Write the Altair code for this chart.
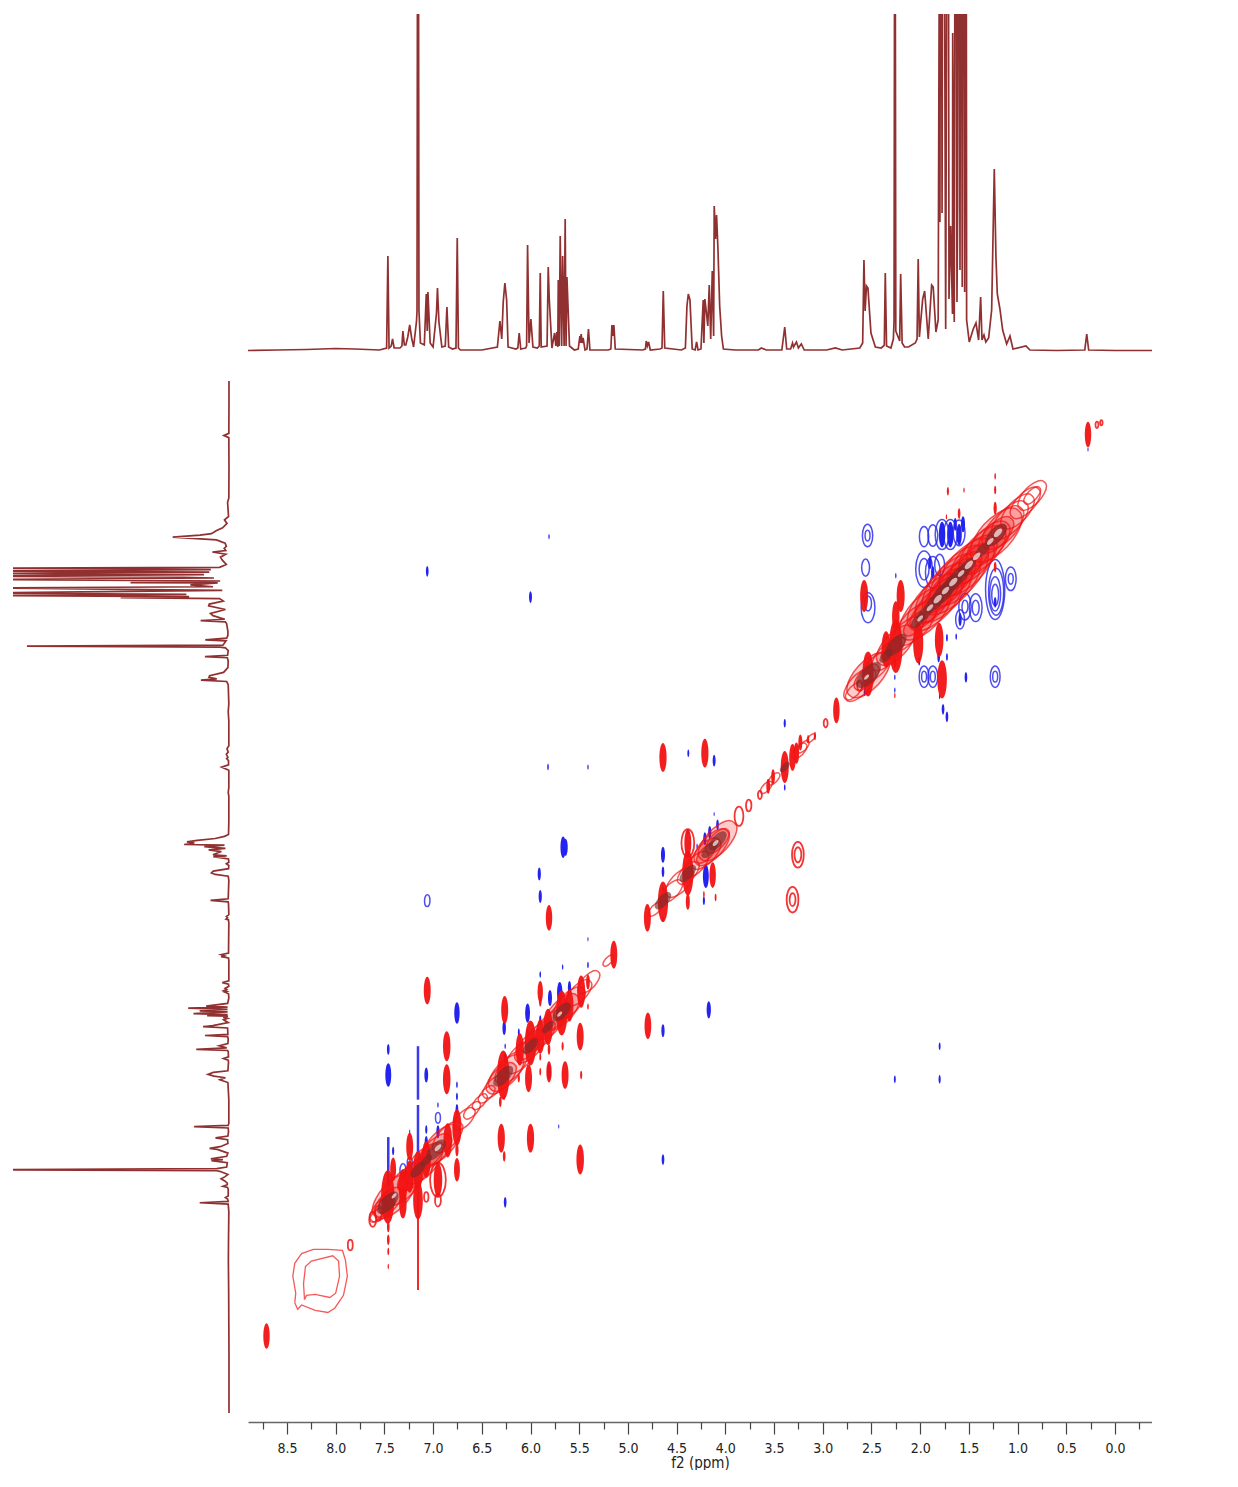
import altair as alt
import pandas as pd

# ---- 1D projection: (ppm, intensity) vertices
spec_ppm = [9.45,8.90,8.6,8.3,8.0,7.8,7.55,7.477,7.464,7.452,7.43,7.416,7.40,7.34,7.32,7.31,7.295,7.28,7.26,7.24,7.22,7.2,7.17,7.165,7.155,7.145,7.13,7.09,7.07,7.06,7.053,7.03,7.0,
 6.965,6.955,6.94,6.91,6.875,6.858,6.84,6.80,6.765,6.752,6.74,6.72,6.5,6.34,6.314,6.295,6.28,6.263,6.245,6.23,6.15,6.13,6.116,6.10,6.05,6.04,6.03,6.015,5.996,5.975,5.93,5.91,5.90,5.89,5.83,5.818,5.808,5.78,
 5.753,5.74,5.73,5.72,5.715,5.705,5.695,5.68,5.67,5.655,5.644,5.635,5.626,5.6,5.55,5.51,5.493,5.488,5.48,5.47,5.46,5.44,5.42,5.405,5.39,5.2,5.175,5.164,5.155,5.144,5.13,
 4.85,4.82,4.812,4.80,4.788,4.77,4.67,4.65,4.637,4.622,4.45,4.41,4.394,4.38,4.363,4.34,4.31,4.295,4.28,4.25,4.227,4.22,4.21,4.196,4.18,4.165,4.15,4.134,4.12,4.114,4.10,4.09,4.076,4.058,4.038,4.02,
 3.9,3.66,3.63,3.58,3.42,3.39,3.37,3.33,3.31,3.30,3.27,3.25,3.22,3.19,2.96,2.87,2.8,2.62,2.59,2.577,2.565,2.551,2.536,2.505,2.46,2.40,2.375,2.368,2.358,2.345,2.30,2.275,2.268,2.259,2.25,2.21,2.20,2.185,2.16,2.12,2.05,2.032,2.02,2.008,
 1.974,1.954,1.917,1.882,1.866,1.838,1.815,1.805,1.797,1.786,1.775,1.763,1.738,1.715,1.704,1.687,1.668,1.666,1.65,1.636,1.622,1.615,1.605,1.591,1.581,1.568,1.557,1.543,1.53,1.523,
 1.496,1.455,1.427,1.40,1.379,1.365,1.345,1.326,1.297,1.266,1.239,1.222,1.208,1.181,1.153,1.112,1.078,1.047,0.914,0.873,0.6,0.31,0.29,0.27,0.0,-0.38]
spec_int = [0.5,0.5,1,1.5,2.5,2,1,3,95,3,5,12,3,3,5,20,6,6,14,26,13,4,30,40,800,40,8,6,57,20,59,8,4,
 38,63,29,4,5,44,4,2,3,113,3,1,1,4,30,12,49,68,51,4,2,3,18,2,3,5,106,8,32,4,3,5,78,4,5,84,53,3,
 18,5,19,4,71,5,115,5,95,5,132,5,74,5,1,2,15,8,17,8,13,1,2,22,1,1,2,26,15,26,2,
 1,2,10,5,9,1,2,3,60,3,1,3,45,57,51,2,1,9,1,2,51,8,52,40,25,66,12,80,15,145,112,136,103,45,15,2,
 1,1,3,1,1,24,2,2,8,4,9,3,7,1,1,3,1,3,8,91,40,65,63,18,4,3,5,6,78,5,3,12,30,652,20,10,77,8,4,4,8,12,92,14,
 52,60,12,66,64,19,31,350,129,800,138,800,22,800,52,125,37,318,29,800,49,147,800,81,800,64,800,59,800,31,
 9,22,28,11,54,11,16,9,13,41,182,94,57,42,21,7,15,2,5,1,0.5,1,17,1,0.5,0.5]

# ---- 2D cross peaks: (f2 ppm, f1 ppm, f1 extent in ppm)
blue_spots = [(5.81,1.235,.05),(7.06,1.56,.1),(6.0,1.80,.11),(5.82,3.39,.06),(5.41,3.39,.05),(5.91,4.39,.12),(5.90,4.60,.12),
 (5.665,4.14,.2),(5.64,4.14,.16),(6.755,5.69,.2),(4.64,5.855,.12),(4.17,5.66,.16),(4.64,7.06,.1),(5.71,6.75,.04),(6.26,7.46,.1),
 (2.26,6.31,.07),(1.80,6.0,.07),(1.80,6.31,.08),(7.46,6.03,.1),(7.46,6.27,.22),(7.07,6.27,.14),(6.755,6.36,.06),(6.755,6.47,.07),(6.755,6.59,.1),
 (6.95,6.55,.05),(6.95,6.8,.12),(7.07,6.78,.08),(7.07,6.9,.12),(7.24,6.8,.04),(7.41,6.98,.08),(7.54,7.44,.04),
 (6.27,5.83,.13),(6.26,6.0,.05),(6.26,6.11,.1),(6.03,5.69,.18),(6.03,5.87,.08),(6.12,5.87,.07),(5.9,5.75,.08),(5.9,5.33,.06),(5.67,5.26,.05),(5.41,5.0,.04),(5.41,5.24,.06),
 (5.8,5.55,.15),(5.7,5.5,.2),(5.6,5.45,.12),(5.81,6.24,.15),
 (0.277,.42,.04),(4.38,3.26,.07),(4.115,3.33,.11),(3.39,2.98,.08),(3.39,3.58,.06),(4.64,4.21,.15),(4.64,4.37,.1),(4.64,4.53,.06),(4.64,4.81,.06),
 (4.115,3.83,.04),(4.29,4.13,.05),(4.08,3.93,.1),(4.16,4.0,.12),(4.21,4.06,.12),(4.2,4.41,.22),(4.22,4.64,.08),(4.385,4.0,.06),
 (1.53,2.55,.1),(1.725,2.36,.07),(1.725,2.18,.07),(1.80,2.73,.05),(1.765,2.85,.1),(1.725,2.92,.1),(2.57,2.69,.07),(2.26,2.55,.05),(2.26,2.67,.05),(2.25,1.6,.05),(2.01,2.40,.08),(1.81,2.36,.1),
 (1.64,1.12,.12),(1.56,1.12,.15),(1.775,1.216,.24),(1.69,1.216,.24),(1.60,1.216,.2),(1.90,1.48,.12),(1.87,1.57,.12),(1.63,2.17,.06),(1.59,2.01,.12),(1.23,1.85,.1)]
blue_rings = [(2.54,1.225,.21),(2.54,1.225,.1),(2.56,1.525,.16),(2.535,1.90,.28),(2.535,1.86,.14),(1.96,1.235,.19),(1.87,1.225,.2),(1.775,1.216,.28),(1.69,1.216,.28),
 (1.60,1.2,.24),(1.96,1.54,.34),(1.96,1.54,.2),(1.87,1.57,.3),(1.80,1.5,.2),(1.07,1.63,.22),(1.07,1.63,.1),
 (1.43,1.90,.26),(1.43,1.90,.14),(1.54,1.89,.25),(1.54,1.89,.12),(1.59,2.01,.18),(1.23,2.545,.2),(1.23,2.545,.1),(1.96,2.545,.2),(1.96,2.545,.1),(1.87,2.545,.2),(1.87,2.545,.1),
 (7.06,4.64,.11),(7.31,7.16,.12),(7.24,7.09,.1),(7.2,7.14,.1),(6.95,6.67,.1)]
blue_tall_rings = [(1.23,1.73,.56),(1.22,1.75,.44),(1.23,1.77,.32),(1.23,1.78,.2)]
red_spots = [(2.575,1.79,.3),(2.20,1.79,.3),(2.25,1.98,.28),(2.35,2.29,.34),(2.25,2.26,.5),(2.02,2.23,.38),(1.805,2.20,.32),(1.775,2.57,.36),(2.535,2.52,.42),
 (1.23,.67,.06),(1.23,.8,.08),(1.23,.97,.12),(1.715,.81,.08),(1.73,1.05,.05),(1.55,.8,.05),(1.6,1.02,.1),(1.23,1.52,.1),(2.26,2.42,.1),(2.26,2.72,.05),
 (4.64,3.30,.27),(4.21,3.26,.27),(3.39,3.39,.3),(3.31,3.30,.25),(3.27,3.26,.2),(3.23,3.16,.15),(3.15,3.13,.08),(3.08,3.10,.08),(2.86,2.86,.24),(3.56,3.57,.14),(3.51,3.48,.14),
 (4.385,4.65,.15),(4.385,4.1,.26),(4.385,4.38,.42),(4.13,4.40,.24),(4.10,4.61,.07),(4.64,4.65,.38),(4.8,4.80,.26),(4.22,4.58,.06),
 (0.277,.28,.24),(5.81,4.80,.24),(7.06,5.48,.26),(5.145,5.145,.26),(5.48,5.49,.3),(4.795,5.81,.25),(5.49,5.91,.26),(5.645,6.27,.26),(5.49,7.06,.28),
 (6.30,6.86,.27),(6.0,6.86,.27),(6.27,7.03,.1),(8.71,8.71,.24),(6.86,6.0,.28),(6.86,6.31,.28),(6.755,6.76,.34),(7.24,6.94,.26),(6.85,6.88,.32),
 (7.07,7.06,.34),(7.155,7.16,.36),(7.24,7.22,.3),(7.31,7.31,.32),(7.41,7.15,.22),(7.465,7.41,.5),(7.31,7.47,.28),(7.155,7.44,.36),(6.95,7.25,.32),(6.755,7.155,.22),(6.755,6.97,.12),
 (7.46,7.69,.1),(7.46,7.81,.1),(7.46,7.92,.07),(7.46,8.06,.05),
 (6.265,5.66,.26),(6.28,6.27,.46),(6.11,6.03,.3),(6.0,5.97,.42),(5.90,5.91,.32),(5.82,5.82,.34),(5.68,5.69,.42),(5.6,5.62,.3),(5.9,5.58,.1),(5.9,5.49,.2),
 (5.48,6.27,.08),(5.81,6.24,.2),(5.9,6.24,.07),(6.02,6.3,.26),(6.12,6.3,.08),(5.67,6.0,.08),(5.81,6.03,.1),(5.9,6.1,.07),(6.27,6.48,.05),(6.31,6.52,.1),(5.41,5.63,.06),(5.41,5.4,.14)]
red_rings = [(7.07,7.41,.09),(6.95,7.44,.12),(6.95,7.25,.32),(7.62,7.62,.14),(7.56,7.56,.14),(7.52,7.5,.14),(3.86,3.85,.18),(3.76,3.75,.11),(3.645,3.65,.08),
 (3.255,4.21,.24),(3.255,4.21,.14),(3.31,4.63,.24),(3.31,4.63,.12),(4.385,4.1,.26),(2.97,2.98,.08),(2.62,2.63,.1),(0.185,.19,.06),(0.14,.17,.05),(7.85,7.86,.1)]
diag_solid = [(1.15,.5),(1.22,.62),(1.22,.42),(1.22,.24),(1.3,.52),(1.36,.56),(1.45,.56),(1.45,.36),(1.52,.66),(1.55,.42),(1.6,.7),(1.62,.44),(1.62,.26),
 (1.68,.7),(1.72,.46),(1.76,.68),(1.78,.4),(1.78,.24),(1.85,.66),(1.88,.42),(1.95,.62),(1.95,.36),(2.05,.5),(2.05,.28),(2.25,.46),(2.28,.28),(2.53,.52),(2.55,.3),
 (4.08,.46),(4.08,.28),(4.14,.42),(4.2,.36),(4.2,.22),
 (5.6,.38),(5.68,.42),(5.72,.3),(5.8,.34),(5.9,.36),(6.0,.38),(6.02,.26),(6.25,.42),(6.3,.36),
 (6.92,.46),(6.98,.4),(7.02,.3),(7.1,.46),(7.2,.38),(7.25,.26),(7.3,.46),(7.4,.52),(7.46,.34)]
diag_open = [(.85,.34),(.92,.36),(.85,.2),(1.0,.4),(1.08,.44),(2.15,.4),(2.35,.34),(2.45,.34),(2.62,.38),(2.68,.2),
 (3.12,.1),(3.2,.14),(3.24,.18),(3.58,.14),(3.5,.14),(4.3,.3),(4.38,.26),(4.47,.34),(4.55,.26),(4.72,.16),
 (5.2,.13),(5.4,.26),(5.5,.3),(6.1,.38),(6.2,.38),(6.38,.26),(6.45,.2),(6.52,.18),(6.6,.2),(6.68,.26),(6.85,.36),(7.52,.3),(7.58,.16)]
dark_cores = [(1.22,.26),(1.36,.18),(1.52,.22),(1.6,.26),(1.68,.26),(1.76,.28),(1.85,.24),(1.95,.2),(2.25,.26),(2.02,.18),(2.53,.3),(2.35,.16),
 (3.39,.12),(4.08,.22),(4.16,.2),(4.385,.2),(4.64,.2),(5.68,.22),(5.82,.14),(6.0,.18),(6.28,.24),(6.97,.24),(7.07,.14),(7.155,.18),(7.465,.26)]
pale_flecks = [(1.2,.1),(1.28,.08),(1.42,.09),(1.5,.1),(1.58,.08),(1.66,.1),(1.74,.09),(1.82,.1),(1.9,.08),(2.0,.07),(2.55,.06),(4.1,.07),(5.7,.06),(6.95,.08),(7.4,.06)]
red_streaks = [(7.155,7.28,8.28),(7.46,7.5,7.6)]
blue_streaks = [(7.155,6.0,6.5),(7.155,6.55,7.0),(7.46,6.85,7.3)]

# two closed contours of the broad peak near 8.2 ppm
broad_outer_x = [8.42,8.41,8.44,8.42,8.35,8.23,8.08,7.93,7.90,7.88,7.92,8.01,8.08,8.21,8.35,8.39,8.42]
broad_outer_y = [8.40,8.31,8.15,8.03,7.94,7.90,7.90,7.91,8.00,8.15,8.33,8.45,8.49,8.47,8.42,8.46,8.40]
broad_inner_x = [8.32,8.33,8.31,8.25,8.03,7.97,7.96,8.0,8.06,8.21,8.30,8.32]
broad_inner_y = [8.37,8.22,8.06,8.01,7.96,8.01,8.15,8.31,8.35,8.32,8.33,8.37]

f2_major = [8.5,8.0,7.5,7.0,6.5,6.0,5.5,5.0,4.5,4.0,3.5,3.0,2.5,2.0,1.5,1.0,0.5,0.0]
f2_minor = [8.75,8.25,7.75,7.25,6.75,6.25,5.75,5.25,4.75,4.25,3.75,3.25,2.75,2.25,1.75,1.25,0.75,0.25,-0.25]
f1_ticks = [0,.5,1,1.5,2,2.5,3,3.5,4,4.5,5,5.5,6,6.5,7,7.5,8,8.5,9]

XDOM = [8.9, -0.38]
YDOM = [-0.22, 9.43]
RED, BLUE, DARK = "#f21313", "#2424ee", "#7d2a2a"
LINE = "#7c0c0c"
LABEL_FONT = "DejaVu Sans Condensed, Liberation Sans, sans-serif"

xs = alt.Scale(domain=XDOM, nice=False, zero=False)
ys = alt.Scale(domain=YDOM, nice=False, zero=False, reverse=True)
sizes = alt.Scale(type="pow", exponent=2, domain=[0, 1], range=[0, 11428])

V_THIN = "M0,-1 C.14,-1 .25,-.55 .25,0 C.25,.55 .14,1 0,1 C-.14,1 -.25,.55 -.25,0 C-.25,-.55 -.14,-1 0,-1 Z"
V_MID = "M0,-1 C.18,-1 .32,-.55 .32,0 C.32,.55 .18,1 0,1 C-.18,1 -.32,.55 -.32,0 C-.32,-.55 -.18,-1 0,-1 Z"
V_WIDE = "M0,-1 C.26,-1 .46,-.55 .46,0 C.46,.55 .26,1 0,1 C-.26,1 -.46,.55 -.46,0 C-.46,-.55 -.26,-1 0,-1 Z"
TILT = "M-.68,.73 A1,.45,-47,1,1,.68,-.73 A1,.45,-47,1,1,-.68,.73 Z"

spec = pd.DataFrame({"ppm": spec_ppm, "i": spec_int, "n": range(len(spec_ppm))})

top = alt.Chart(spec).mark_line(clip=True, color=LINE, strokeWidth=1.7, strokeOpacity=.85).encode(
    x=alt.X("ppm:Q", scale=xs, axis=None),
    y=alt.Y("i:Q", scale=alt.Scale(domain=[-2, 337], nice=False, zero=False), axis=None),
    order="n:Q",
).properties(width=904, height=339)

left = alt.Chart(spec).mark_line(clip=True, color=LINE, strokeWidth=1.7, strokeOpacity=.85).encode(
    x=alt.X("i:Q", scale=alt.Scale(domain=[697, -6], nice=False, zero=False), axis=None),
    y=alt.Y("ppm:Q", scale=ys, axis=None),
    order="n:Q",
).properties(width=218, height=1032)

blank = alt.Chart(pd.DataFrame({"v": [0]})).mark_rule(opacity=0).encode(
    x=alt.value(0), y=alt.value(0)
).properties(width=218, height=339)


def spots(rows, color, shape, filled=True, opacity=1.0, width=1.2):
    df = pd.DataFrame(rows, columns=["f2", "f1", "e"])
    kw = dict(filled=filled, shape=shape, color=color, opacity=opacity)
    if not filled:
        kw["strokeWidth"] = width
    return alt.Chart(df).mark_point(**kw).encode(
        x=alt.X("f2:Q", scale=xs, axis=None),
        y=alt.Y("f1:Q", scale=ys, axis=None),
        size=alt.Size("e:Q", scale=sizes, legend=None),
    )


def diag(rows, color, filled, opacity, width=1.2):
    return spots([(p, p, e) for p, e in rows], color, TILT, filled, opacity, width)


def streaks(rows, color, w):
    df = pd.DataFrame(rows, columns=["f2", "a", "b"])
    return alt.Chart(df).mark_rule(color=color, strokeWidth=w, opacity=.9).encode(
        x=alt.X("f2:Q", scale=xs, axis=None), y=alt.Y("a:Q", scale=ys, axis=None), y2="b:Q"
    )


broad = pd.concat([
    pd.DataFrame({"f2": broad_outer_x, "f1": broad_outer_y, "c": "o", "n": range(len(broad_outer_x))}),
    pd.DataFrame({"f2": broad_inner_x, "f1": broad_inner_y, "c": "i", "n": range(len(broad_inner_x))}),
])
contour = alt.Chart(broad).mark_line(color=RED, strokeWidth=1.3, opacity=.7).encode(
    x=alt.X("f2:Q", scale=xs, axis=None), y=alt.Y("f1:Q", scale=ys, axis=None), detail="c:N", order="n:Q"
)

anchor = pd.DataFrame({"f2": [0.0], "f1": [0.0]})
axis_common = dict(grid=False, domainColor="#666", domainWidth=1.5, tickColor="#444", tickWidth=1.2)

axes = alt.Chart(anchor).mark_point(opacity=0).encode(
    x=alt.X("f2:Q", scale=xs, title="f2 (ppm)", axis=alt.Axis(
        orient="bottom", offset=9, values=f2_major, format=".1f", tickSize=12,
        labelFont=LABEL_FONT, labelFontSize=14, labelColor="#222", labelPadding=7, labelFlush=False, labelOverlap=False,
        titleFont=LABEL_FONT, titleFontSize=15, titleFontWeight="normal", titleColor="#222", titlePadding=0,
        **axis_common)),
    y=alt.Y("f1:Q", scale=ys, title="f1 (ppm)", axis=alt.Axis(
        orient="right", offset=5, values=f1_ticks,
        labelExpr="datum.value % 1 === 0 ? format(datum.value, 'd') : ''",
        tickSize=alt.expr("datum.value % 1 === 0 ? 7 : 4"),
        labelFont=LABEL_FONT, labelFontSize=15, labelColor="#222", labelPadding=2, labelOverlap=False,
        titleFont="DejaVu Sans", titleFontSize=16, titleFontWeight="normal", titleColor="#222",
        titleAngle=270, titlePadding=57,
        **axis_common)),
)
minor_axis = alt.Chart(anchor).mark_point(opacity=0).encode(
    x=alt.X("f2:Q", scale=xs, title=None, axis=alt.Axis(
        orient="bottom", offset=9, values=f2_minor, tickSize=7, labels=False, domain=False,
        grid=False, tickColor="#444", tickWidth=1.2)),
    y=alt.Y("f1:Q", scale=ys, axis=None),
)

main = alt.layer(
    axes,
    minor_axis,
    streaks(blue_streaks, BLUE, 2.5),
    spots(blue_spots, BLUE, V_THIN),
    spots(blue_rings, BLUE, V_WIDE, False, .8, 1.5),
    spots(blue_tall_rings, BLUE, V_MID, False, .8, 1.5),
    contour,
    streaks(red_streaks, RED, 2),
    diag(diag_solid, RED, True, .22),
    diag(diag_solid, RED, False, .7, 1.5),
    diag(diag_open, RED, False, .7, 1.5),
    spots(red_spots, RED, V_THIN, True, .95),
    spots(red_rings, RED, V_WIDE, False, .85, 1.8),
    diag(dark_cores, DARK, True, .65),
    diag(pale_flecks, "#f6e6e6", True, .75),
).resolve_axis(x="independent").properties(width=904, height=1032)

chart = alt.concat(blank, top, left, main, columns=2, spacing={"row": 28, "column": 17}).properties(
    padding={"left": 5, "top": 6, "right": 0, "bottom": 0}
).configure_view(stroke=None)

chart.save("out.html", embed_options={"renderer": "svg", "actions": False})
